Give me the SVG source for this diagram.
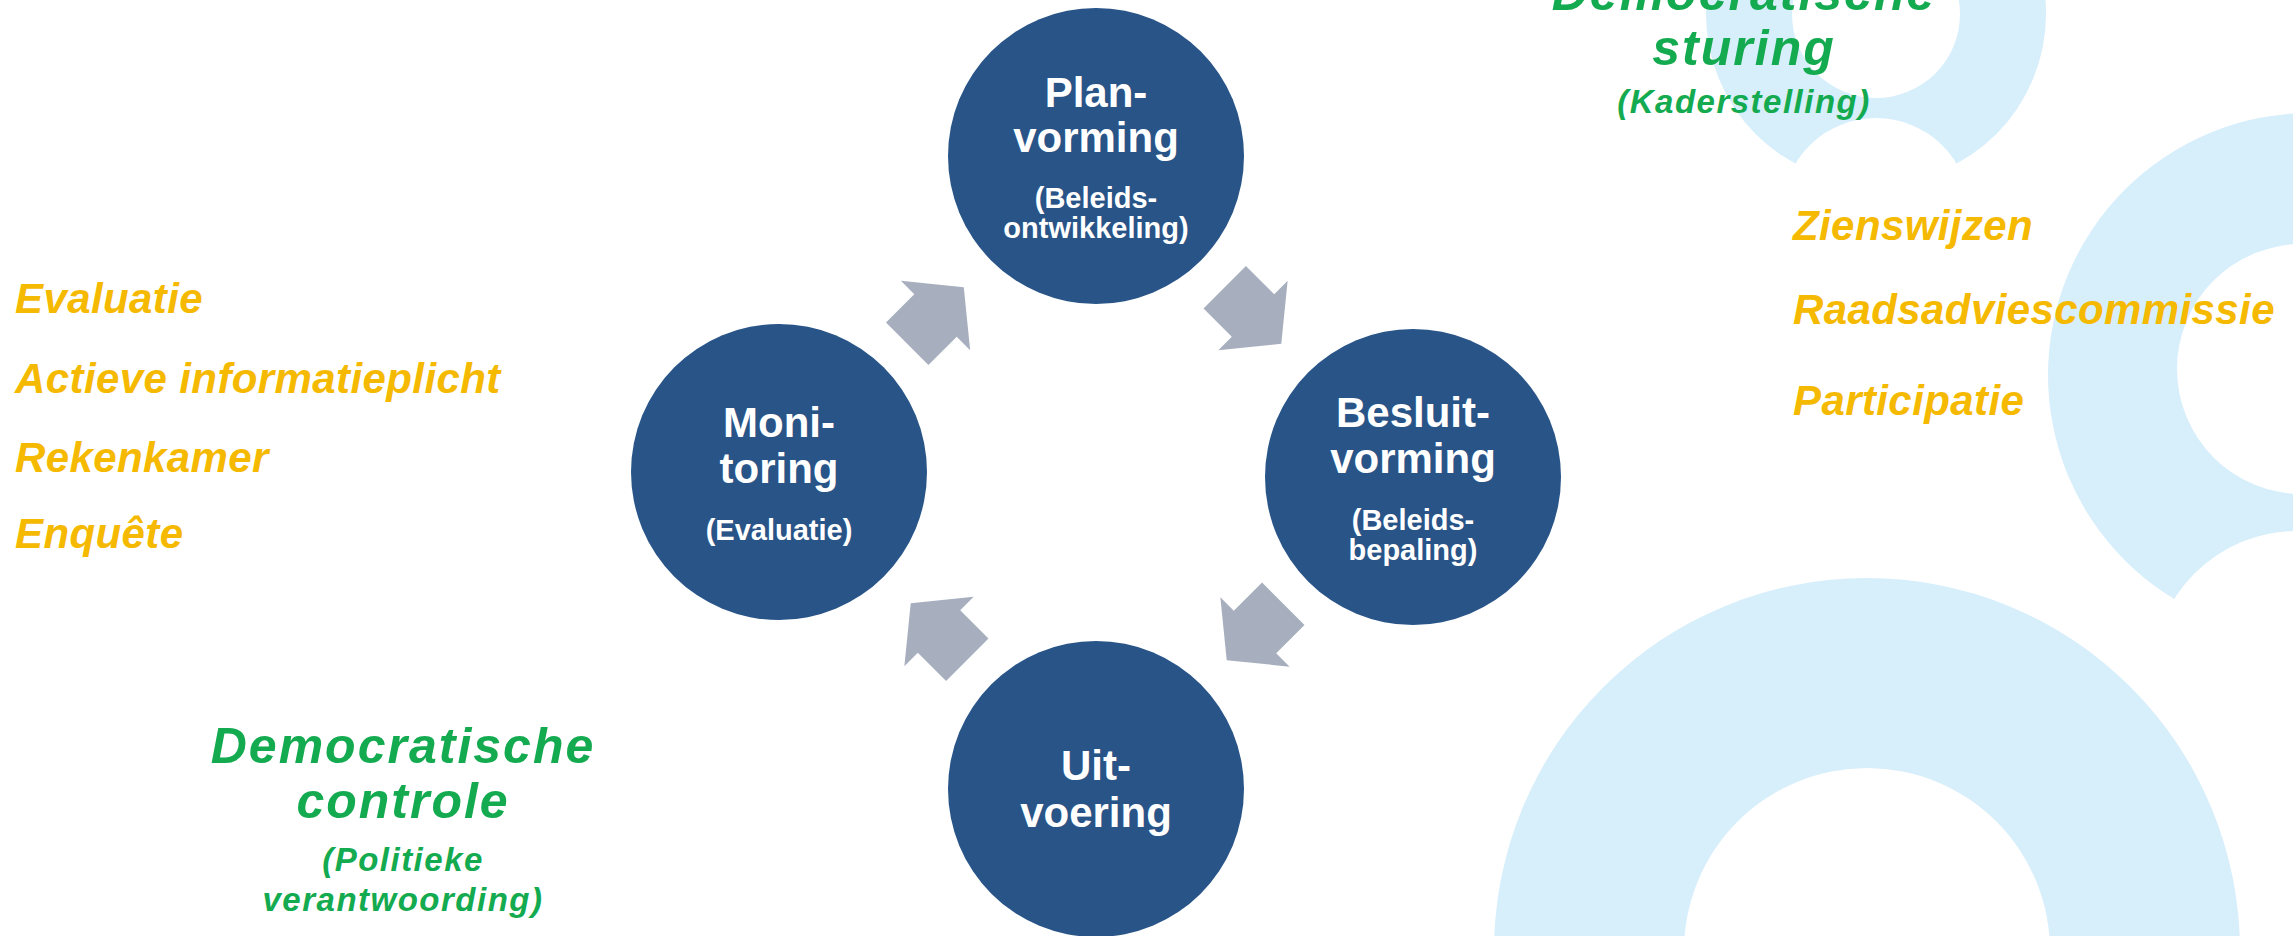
<svg xmlns="http://www.w3.org/2000/svg" width="2293" height="936" viewBox="0 0 2293 936">
  <style>
    .bg { fill: #d7eefb; }
    .node { fill: #285488; }
    .arrow { fill: #a7afbe; }
    .nt { font-family: "Liberation Sans", Arial, sans-serif; font-weight: bold; fill: #ffffff; text-anchor: middle; }
    .big { font-size: 42px; }
    .sub { font-size: 29px; }
    .yel { font-family: "Liberation Sans", Arial, sans-serif; font-weight: bold; font-style: italic; fill: #f5b900; font-size: 42px; letter-spacing: 0.4px; }
    .grn { font-family: "Liberation Sans", Arial, sans-serif; font-weight: bold; font-style: italic; fill: #13aa50; text-anchor: middle; }
    .g1 { font-size: 50px; letter-spacing: 2px; }
    .g2 { font-size: 33px; letter-spacing: 1.5px; }
  </style>
  <defs>
    <path id="arr" d="M-40,-30 H0 V-49 L40,0 L0,49 V30 H-40 Z"/>
    <mask id="mB" maskUnits="userSpaceOnUse" x="0" y="0" width="2293" height="936">
      <rect x="0" y="0" width="2293" height="936" fill="#fff"/>
      <circle cx="2302" cy="369" r="125" fill="#000"/>
      <circle cx="2297" cy="676" r="145" fill="#000"/>
    </mask>
    <mask id="mC" maskUnits="userSpaceOnUse" x="0" y="0" width="2293" height="936">
      <rect x="0" y="0" width="2293" height="936" fill="#fff"/>
      <circle cx="1876" cy="14" r="84" fill="#000"/>
      <circle cx="1876" cy="212" r="94" fill="#000"/>
    </mask>
    <mask id="mA" maskUnits="userSpaceOnUse" x="0" y="0" width="2293" height="936">
      <rect x="0" y="0" width="2293" height="936" fill="#fff"/>
      <circle cx="1867" cy="951" r="183" fill="#000"/>
    </mask>
  </defs>
  <rect x="0" y="0" width="2293" height="936" fill="#ffffff"/>

  <g id="background">
    <circle class="bg" cx="2310" cy="375" r="262" mask="url(#mB)"/>
    <circle class="bg" cx="1876" cy="14" r="170" mask="url(#mC)"/>
    <circle class="bg" cx="1867" cy="951" r="373" mask="url(#mA)"/>
  </g>

  <g id="connectors">
    <use href="#arr" class="arrow" transform="translate(935.5,315.5) rotate(-45)"/>
    <use href="#arr" class="arrow" transform="translate(1253,315.5) rotate(45)"/>
    <use href="#arr" class="arrow" transform="translate(1255,632) rotate(135)"/>
    <use href="#arr" class="arrow" transform="translate(939,631.5) rotate(-135)"/>
  </g>

  <g id="node-planvorming">
    <circle class="node" cx="1096" cy="156" r="148"/>
    <text class="nt big" x="1096" y="107">Plan-</text>
    <text class="nt big" x="1096" y="152">vorming</text>
    <text class="nt sub" x="1096" y="208">(Beleids-</text>
    <text class="nt sub" x="1096" y="238">ontwikkeling)</text>
  </g>

  <g id="node-besluitvorming">
    <circle class="node" cx="1413" cy="477" r="148"/>
    <text class="nt big" x="1413" y="427">Besluit-</text>
    <text class="nt big" x="1413" y="473">vorming</text>
    <text class="nt sub" x="1413" y="530">(Beleids-</text>
    <text class="nt sub" x="1413" y="560">bepaling)</text>
  </g>

  <g id="node-uitvoering">
    <circle class="node" cx="1096" cy="789" r="148"/>
    <text class="nt big" x="1096" y="780">Uit-</text>
    <text class="nt big" x="1096" y="827">voering</text>
  </g>

  <g id="node-monitoring">
    <circle class="node" cx="779" cy="472" r="148"/>
    <text class="nt big" x="779" y="437">Moni-</text>
    <text class="nt big" x="779" y="483">toring</text>
    <text class="nt sub" x="779" y="540">(Evaluatie)</text>
  </g>

  <g id="controle-list">
    <text class="yel" x="15" y="313">Evaluatie</text>
    <text class="yel" x="15" y="393">Actieve informatieplicht</text>
    <text class="yel" x="15" y="472">Rekenkamer</text>
    <text class="yel" x="15" y="548">Enquête</text>
  </g>

  <g id="sturing-list">
    <text class="yel" x="1793" y="240">Zienswijzen</text>
    <text class="yel" x="1793" y="324">Raadsadviescommissie</text>
    <text class="yel" x="1793" y="415">Participatie</text>
  </g>

  <g id="label-sturing">
    <text class="grn g1" x="1744" y="10">Democratische</text>
    <text class="grn g1" x="1744" y="65">sturing</text>
    <text class="grn g2" x="1744" y="113">(Kaderstelling)</text>
  </g>

  <g id="label-controle">
    <text class="grn g1" x="403" y="763">Democratische</text>
    <text class="grn g1" x="403" y="818">controle</text>
    <text class="grn g2" x="403" y="871">(Politieke</text>
    <text class="grn g2" x="403" y="911">verantwoording)</text>
  </g>
</svg>
